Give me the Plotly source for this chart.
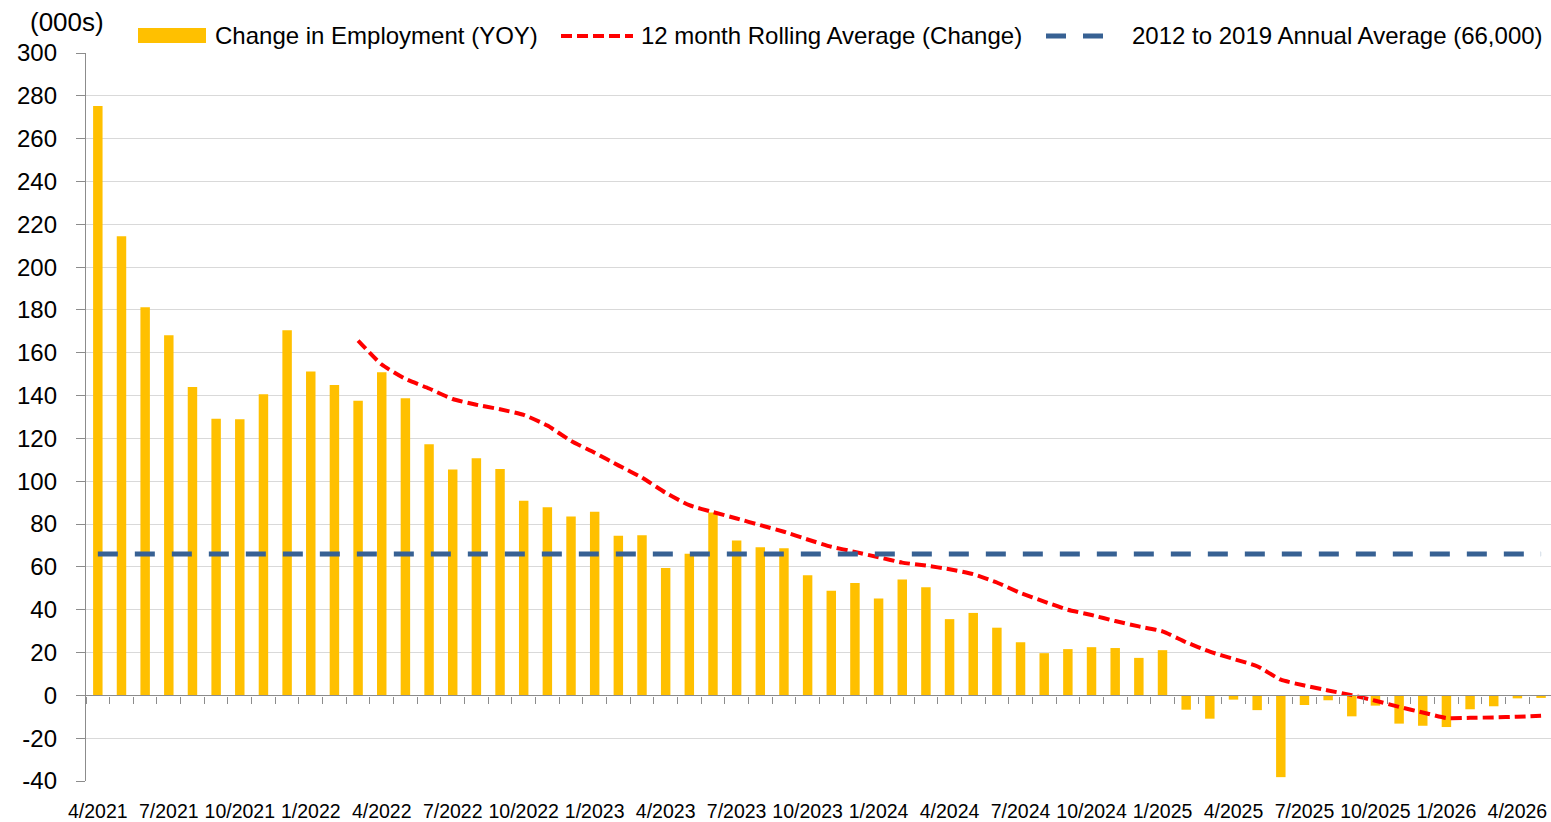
import plotly.graph_objects as go

months = [
    "4/2021", "5/2021", "6/2021", "7/2021", "8/2021", "9/2021", "10/2021", "11/2021", "12/2021",
    "1/2022", "2/2022", "3/2022", "4/2022", "5/2022", "6/2022", "7/2022", "8/2022", "9/2022",
    "10/2022", "11/2022", "12/2022",
    "1/2023", "2/2023", "3/2023", "4/2023", "5/2023", "6/2023", "7/2023", "8/2023", "9/2023",
    "10/2023", "11/2023", "12/2023",
    "1/2024", "2/2024", "3/2024", "4/2024", "5/2024", "6/2024", "7/2024", "8/2024", "9/2024",
    "10/2024", "11/2024", "12/2024",
    "1/2025", "2/2025", "3/2025", "4/2025", "5/2025", "6/2025", "7/2025", "8/2025", "9/2025",
    "10/2025", "11/2025", "12/2025",
    "1/2026", "2/2026", "3/2026", "4/2026", "5/2026",
]

employment_change = [
    275.2, 214.4, 181.2, 168.2, 144.0, 129.2, 128.9, 140.6, 170.5,
    151.2, 145.0, 137.6, 150.9, 138.8, 117.3, 105.5, 110.7, 105.7,
    90.9, 87.8, 83.5,
    85.8, 74.5, 74.8, 59.5, 66.1, 85.4, 72.3, 69.2, 68.7,
    56.1, 48.8, 52.5,
    45.2, 54.1, 50.5, 35.6, 38.5, 31.6, 24.8, 19.7, 21.6,
    22.5, 22.1, 17.5,
    21.1, -6.7, -10.9, -2.0, -6.9, -38.2, -4.5, -2.3, -9.8,
    -4.8, -13.2, -14.2,
    -14.8, -6.5, -5.1, -1.4, -1.2,
]

rolling_months = months[11:]  # 3/2022 onward
rolling_avg = [
    165.7, 154.5, 147.8, 143.3, 138.4, 135.7, 133.6, 131.0, 126.0, 118.8,
    113.3, 107.4, 101.7, 94.6, 88.8, 85.6, 82.6, 79.5, 76.4, 72.8, 69.4, 67.0,
    64.5, 62.0, 60.6, 58.9, 56.6, 52.7, 47.8, 43.8, 40.0, 37.5, 34.7, 32.2,
    29.9, 24.8, 20.4, 17.0, 13.6, 7.3, 4.6, 2.3, 0.1, -2.5, -5.4, -8.0,
    -10.6, -10.5, -10.3, -10.0, -9.5,
]

annual_average_2012_2019 = 66
baseline = [annual_average_2012_2019] * len(months)

x_tick_labels = months[::3]
y_tick_values = [-40, -20, 0, 20, 40, 60, 80, 100, 120, 140, 160, 180, 200,
                 220, 240, 260, 280, 300]
y_tick_labels = ["-40", "-20", "0", "20", "40", "60", "80", "100", "120", "140",
                 "160", "180", "200", "220", "240", "260", "280", "300"]

legend_labels = [
    "Change in Employment (YOY)",
    "12 month Rolling Average (Change)",
    "2012 to 2019 Annual Average (66,000)",
]

FONT = "Liberation Sans, Arial, sans-serif"
BAR_COLOR = "#FFC000"
RED = "#FF0000"
BLUE = "#376193"
AXIS_GREY = "#8C8C8C"
GRID_GREY = "#D9D9D9"

# The page body margin is removed in post_script, so the figure fills the viewport.
W, H = 1551, 822
ML, MR, MT, MB = 86, 0, 53, 41
PW, PH = W - ML - MR, H - MT - MB


def px(vx):
    return (vx - ML) / PW


def py(vy):
    return (H - MB - vy) / PH


fig = go.Figure()

fig.add_trace(go.Bar(
    x=months, y=employment_change, name=legend_labels[0],
    marker=dict(color=BAR_COLOR, line=dict(width=0)), width=0.4,
    showlegend=False,
))

fig.add_trace(go.Scatter(
    x=rolling_months, y=rolling_avg, name=legend_labels[1], mode="lines",
    line=dict(color=RED, width=4, dash="11px,5px", shape="spline", smoothing=0.5),
    showlegend=False,
))

fig.add_trace(go.Scatter(
    x=months, y=baseline, name=legend_labels[2], mode="lines",
    line=dict(color=BLUE, width=5, dash="20px,17px"),
    xaxis="x2", showlegend=False,
))

y_min, y_max = -40, 300
x_range = [-0.5, 61.42]

fig.update_layout(
    width=W, height=H,
    margin=dict(l=ML, r=MR, t=MT, b=MB, autoexpand=False),
    paper_bgcolor="white", plot_bgcolor="white",
    font=dict(family=FONT, size=24, color="black"),
    xaxis=dict(
        type="category", categoryorder="array", categoryarray=months,
        range=x_range, tickmode="array", tickvals=x_tick_labels,
        ticks="", showline=False, showgrid=False, zeroline=False,
        tickangle=0, automargin=False,
        tickfont=dict(family=FONT, size=19.5, color="black"),
        ticklabelstandoff=16,
    ),
    xaxis2=dict(
        type="category", categoryorder="array", categoryarray=months,
        overlaying="x", anchor="free",
        position=(0 - y_min) / (y_max - y_min),
        range=x_range, tickmode="array", tickvals=months,
        tickson="boundaries", ticks="outside", ticklen=7, tickwidth=1.3,
        tickcolor=AXIS_GREY, showticklabels=False,
        showline=True, linecolor=AXIS_GREY, linewidth=1.3,
        showgrid=False, zeroline=False, automargin=False,
    ),
    yaxis=dict(
        range=[y_min, y_max], tickmode="array",
        tickvals=y_tick_values, ticktext=y_tick_labels,
        showgrid=True, gridcolor=GRID_GREY, gridwidth=1.3,
        zeroline=False, showline=True, linecolor=AXIS_GREY, linewidth=1.3,
        ticks="outside", ticklen=9, tickwidth=1.3, tickcolor=AXIS_GREY,
        tickfont=dict(family=FONT, size=24, color="black"),
        ticklabelstandoff=14, automargin=False,
    ),
    showlegend=False,
)

# Unit label
fig.add_annotation(
    xref="paper", yref="paper", x=px(67), y=py(22), text="(000s)",
    showarrow=False, xanchor="center", yanchor="middle",
    font=dict(family=FONT, size=26, color="black"),
)

# Custom legend (swatches + labels)
legend_y = py(36)
fig.add_shape(type="rect", xref="paper", yref="paper",
              x0=px(138), x1=px(206), y0=py(43), y1=py(28),
              fillcolor=BAR_COLOR, line=dict(width=0))
fig.add_shape(type="line", xref="paper", yref="paper",
              x0=px(561), x1=px(633), y0=legend_y, y1=legend_y,
              line=dict(color=RED, width=4, dash="11px,5px"))
fig.add_shape(type="line", xref="paper", yref="paper",
              x0=px(1046), x1=px(1104), y0=legend_y, y1=legend_y,
              line=dict(color=BLUE, width=5, dash="20px,17px"))

for label, xl in zip(legend_labels, [213, 639, 1130]):
    fig.add_annotation(
        xref="paper", yref="paper", x=px(xl), y=py(35), text=label,
        showarrow=False, xanchor="left", yanchor="middle",
        font=dict(family=FONT, size=24, color="black"),
    )

fig.write_html(
    "out.html",
    config={"displayModeBar": False},
    post_script="document.body.style.margin='0px';document.body.style.overflow='hidden';",
)
